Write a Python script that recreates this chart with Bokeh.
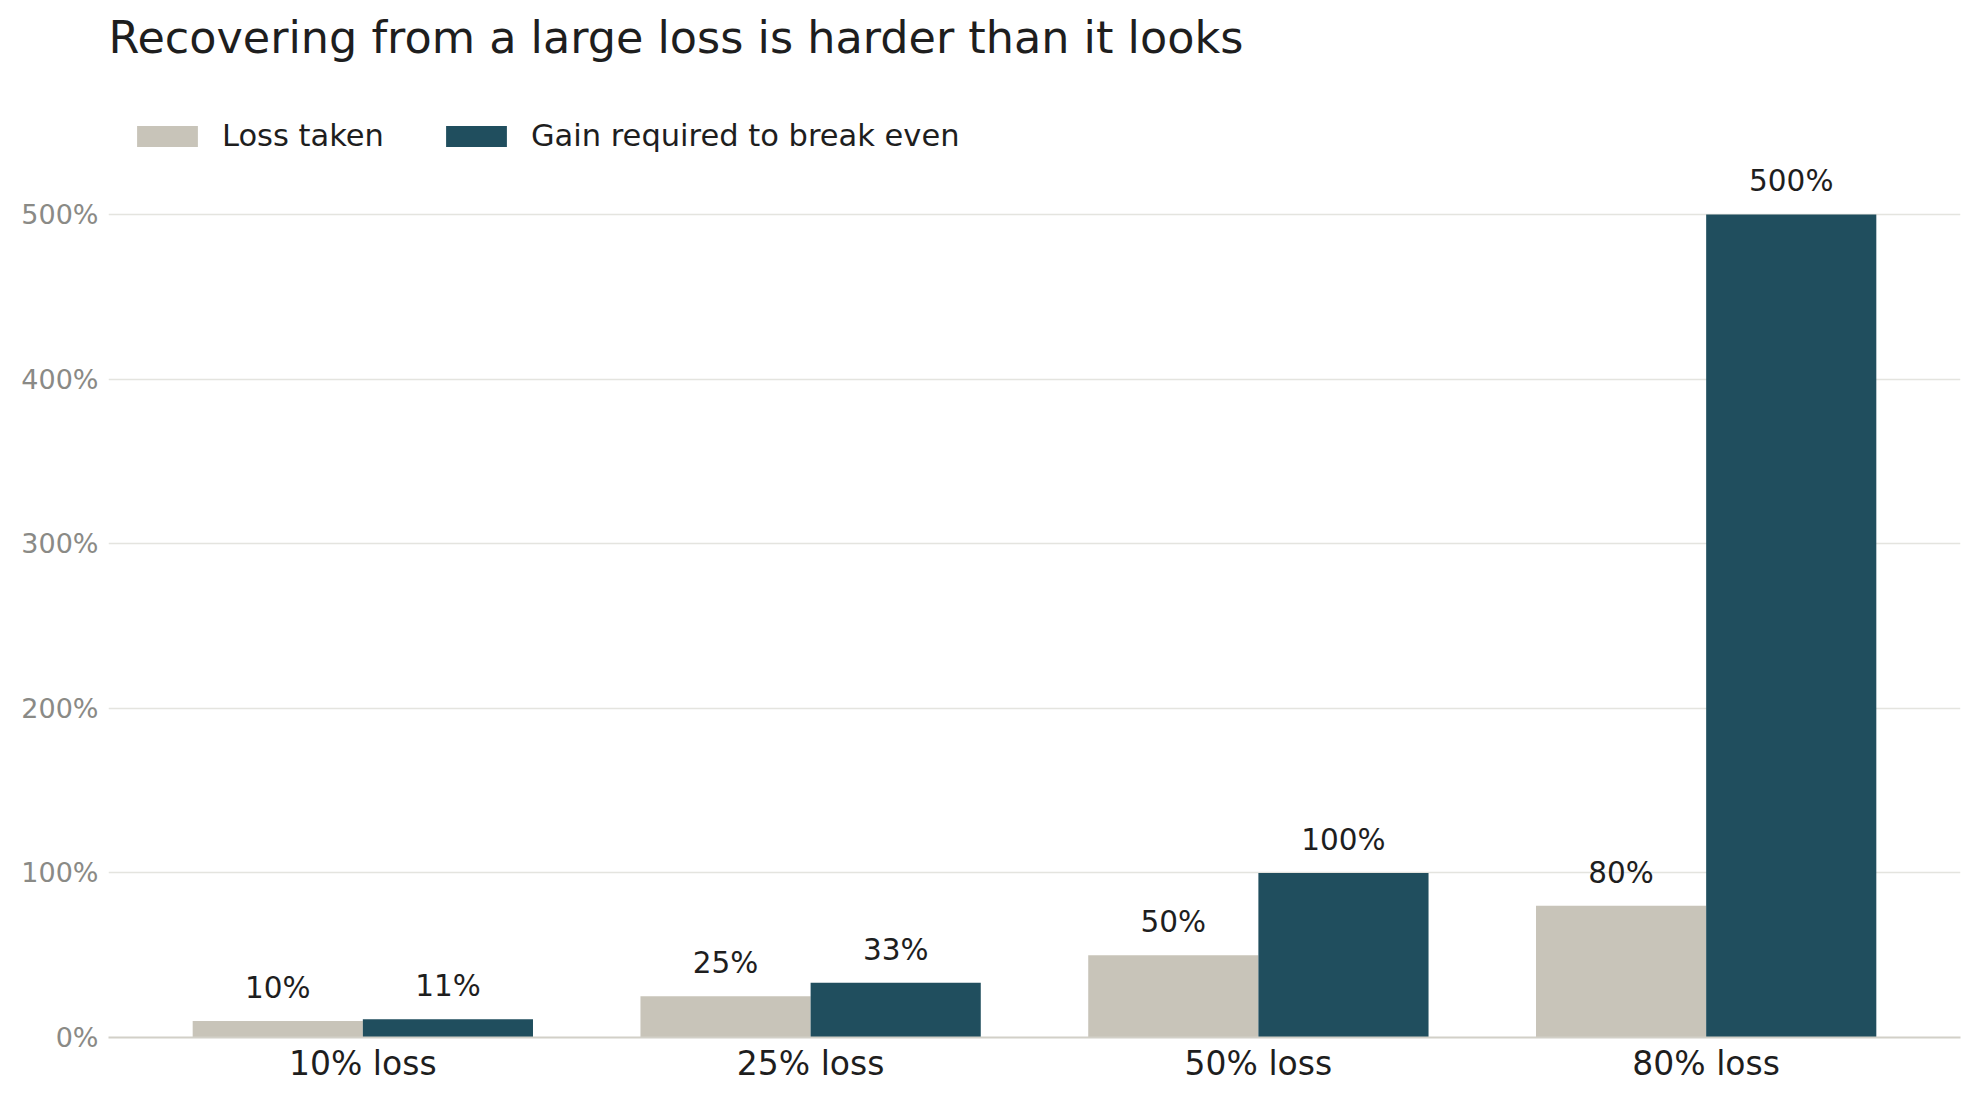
from bokeh.plotting import figure
from bokeh.models import (ColumnDataSource, FactorRange, Range1d, FixedTicker,
                          PrintfTickFormatter, Legend, LegendItem, Title)
from bokeh.transform import dodge
from bokeh.core.properties import value
from bokeh.embed import file_html
from bokeh.resources import INLINE

categories = ["10% loss", "25% loss", "50% loss", "80% loss"]
loss_taken = [10, 25, 50, 80]
gain_required = [11.1, 33.3, 100, 500]
loss_labels = ["10%", "25%", "50%", "80%"]
gain_labels = ["11%", "33%", "100%", "500%"]
y_ticks = [0, 100, 200, 300, 400, 500]
title_text = "Recovering from a large loss is harder than it looks"

FONT = "DejaVu Sans"
LIGHT = "#c8c4b9"
DARK = "#204e5e"

src = ColumnDataSource(dict(cat=categories, loss=loss_taken, gain=gain_required,
                            loss_lbl=loss_labels, gain_lbl=gain_labels))

p = figure(x_range=FactorRange(factors=categories, range_padding=0.068,
                               range_padding_units="absolute"),
           y_range=Range1d(0, 571),
           width=1968, height=1090,
           min_border_left=108, min_border_right=8,
           min_border_top=97, min_border_bottom=53,
           output_backend="svg", toolbar_location=None)

# spacer between title and plot area (nearest the frame), then the title
p.add_layout(Title(text=" ", text_font_size="1px", standoff=32), "above")
p.add_layout(Title(text=title_text, text_font=FONT, text_font_size="44.5px",
                   text_font_style="normal", text_color="#1e1e1e",
                   align="left", standoff=0), "above")

r1 = p.vbar(x=dodge("cat", -0.19, range=p.x_range), top="loss", width=0.38,
            source=src, fill_color=LIGHT, line_color=None)
r2 = p.vbar(x=dodge("cat", 0.19, range=p.x_range), top="gain", width=0.38,
            source=src, fill_color=DARK, line_color=None)

p.text(x=dodge("cat", -0.19, range=p.x_range), y="loss", text="loss_lbl", source=src,
       text_font=value(FONT), text_font_size="29.5px", text_color="#1e1e1e",
       text_align="center", text_baseline="alphabetic", y_offset=-33)
p.text(x=dodge("cat", 0.19, range=p.x_range), y="gain", text="gain_lbl", source=src,
       text_font=value(FONT), text_font_size="29.5px", text_color="#1e1e1e",
       text_align="center", text_baseline="alphabetic", y_offset=-33)

legend = Legend(items=[LegendItem(label="Loss taken", renderers=[r1]),
                       LegendItem(label="Gain required to break even", renderers=[r2])],
                location="top_left", orientation="horizontal",
                margin=21, padding=0, spacing=54,
                glyph_width=76, glyph_height=26, label_standoff=17,
                label_text_font=FONT, label_text_font_size="30.5px",
                label_text_color="#1e1e1e",
                border_line_color=None, background_fill_alpha=0)
p.add_layout(legend, "center")

p.outline_line_color = None
p.background_fill_color = "white"
p.border_fill_color = "white"

p.xgrid.grid_line_color = None
p.ygrid.grid_line_color = "#e4e4df"
p.ygrid.grid_line_width = 1.5

p.yaxis.ticker = FixedTicker(ticks=y_ticks)
p.yaxis.formatter = PrintfTickFormatter(format="%d%%")
p.yaxis.axis_line_color = None
p.yaxis.major_tick_line_color = None
p.yaxis.minor_tick_line_color = None
p.yaxis.major_label_text_font = FONT
p.yaxis.major_label_text_font_size = "27px"
p.yaxis.major_label_text_color = "#8a8a86"
p.yaxis.major_label_standoff = 4

p.xaxis.axis_line_color = "#d2d0c8"
p.xaxis.axis_line_width = 2
p.xaxis.major_tick_line_color = None
p.xaxis.minor_tick_line_color = None
p.xaxis.major_label_text_font = FONT
p.xaxis.major_label_text_font_size = "33px"
p.xaxis.major_label_text_color = "#1e1e1e"
p.xaxis.major_label_standoff = 0

open("out.html", "w").write(file_html(p, INLINE))
